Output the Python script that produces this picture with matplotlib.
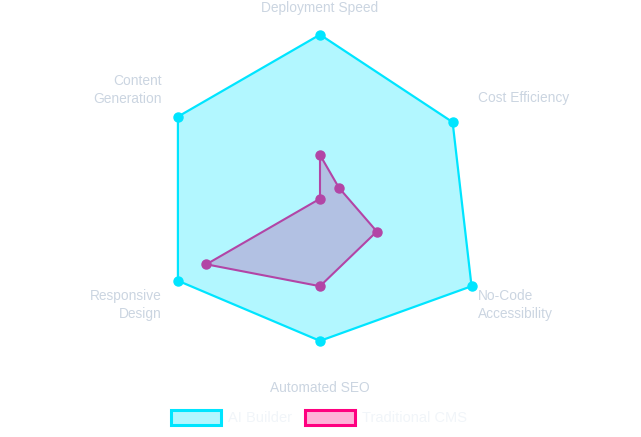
import numpy as np
import matplotlib
matplotlib.use("Agg")
import matplotlib.pyplot as plt
from matplotlib.patches import Rectangle

# data (0..8 scale)
categories = ["Deployment Speed", "Cost Efficiency", "No-Code\nAccessibility",
              "Automated SEO", "Responsive\nDesign", "Content\nGeneration"]
ai_builder = [7.5, 7.0, 8.0, 6.5, 7.5, 7.5]
traditional_cms = [2.0, 1.0, 3.0, 4.0, 6.0, 0.0]
series_names = ["AI Builder", "Traditional CMS"]

cyan = "#00e5ff"
pink = "#ff0080"
label_col = "#cbd5e1"
legend_col = "#f1f5f9"

W, H = 641, 437
plt.rcParams["font.family"] = ["Liberation Sans", "DejaVu Sans"]
fig = plt.figure(figsize=(W / 100, H / 100), dpi=100)

cx, cy, R = 320, 198.7, 175
ax = fig.add_axes([(cx - R) / W, (H - cy - R) / H, 2 * R / W, 2 * R / H], polar=True)
ax.set_theta_offset(np.pi / 2)
ax.set_theta_direction(-1)
ax.set_ylim(0, 8)
ax.set_axis_off()

n = len(categories)
theta = np.linspace(0, 2 * np.pi, n, endpoint=False)
tc = np.append(theta, theta[0])

def closed(v):
    return np.append(v, v[0])

# second series drawn below, first series on top (like Chart.js)
ax.fill(tc, closed(traditional_cms), color=pink, alpha=0.3, lw=0, zorder=1)
ax.plot(tc, closed(traditional_cms), color=pink, lw=1.5, zorder=2)
ax.plot(theta, traditional_cms, "o", color=pink, ms=6.5, zorder=3)

ax.fill(tc, closed(ai_builder), color=cyan, alpha=0.3, lw=0, zorder=4)
ax.plot(tc, closed(ai_builder), color=cyan, lw=1.6, zorder=5, clip_on=False)
ax.plot(theta, ai_builder, "o", color=cyan, ms=6.5, zorder=6, clip_on=False)

# point labels (pixel positions)
fs = 9.9
lbl_pos = [(320, 8, "center"), (478, 98, "left"), (478, 305, "left"),
           (320, 388, "center"), (162, 305, "right"), (162, 90, "right")]
for txt, (x, y, ha) in zip(categories, lbl_pos):
    fig.text(x / W, 1 - y / H, txt, ha=ha, va="center", color=label_col,
             fontsize=fs, linespacing=1.3)

# legend
ly = 417.5
boxes = [(171, cyan), (305, pink)]
for name, (bx, col) in zip(series_names, boxes):
    fig.patches.append(Rectangle((bx / W, 1 - (ly + 7.5) / H), 50 / W, 15 / H,
                                 transform=fig.transFigure, facecolor=col,
                                 alpha=0.3, edgecolor="none"))
    fig.patches.append(Rectangle((bx / W, 1 - (ly + 7.5) / H), 50 / W, 15 / H,
                                 transform=fig.transFigure, facecolor="none",
                                 edgecolor=col, lw=2.2))
    fig.text((bx + 57) / W, 1 - ly / H, name, ha="left", va="center",
             color=legend_col, fontsize=10.5)

fig.savefig("out.png", dpi=100)
